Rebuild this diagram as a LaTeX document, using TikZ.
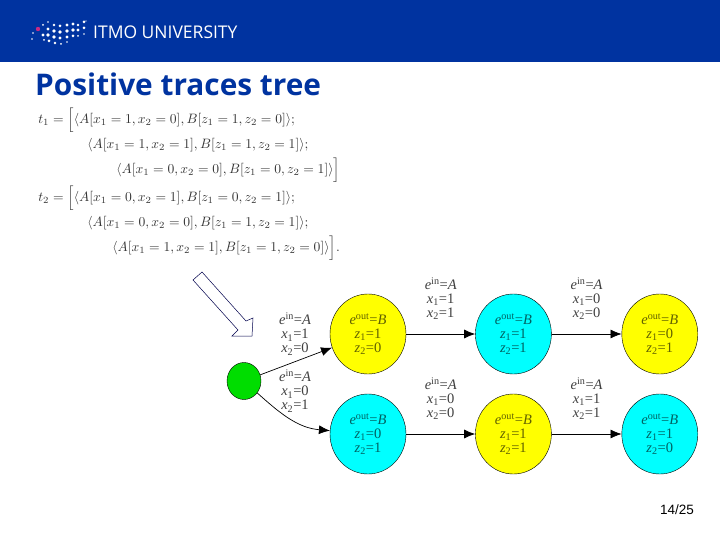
\documentclass[tikz,border=0pt]{standalone}
\usepackage{fontspec}
\setmainfont{Liberation Serif}
\newfontfamily\titlefont{Open Sans}
\newfontfamily\pagefont{Liberation Sans}
\usepackage{tikz}
\usetikzlibrary{positioning,arrows.meta,shapes.geometric}
\definecolor{itmoblue}{RGB}{0,51,160}
\definecolor{nodeyellow}{RGB}{255,255,0}
\definecolor{nodecyan}{RGB}{0,255,255}
\definecolor{nodegreen}{RGB}{0,221,0}
\tikzset{
  statenode/.style={draw=black,ellipse,minimum width=76pt,minimum height=80pt,inner sep=0pt,align=center,
    font=\fontsize{14.5}{14}\selectfont},
  yellownode/.style={statenode,fill=nodeyellow,text=black!45!nodeyellow!70!black},
  cyannode/.style={statenode,fill=nodecyan,text=black!45!nodecyan!70!black},
  guardlabel/.style={align=center,inner sep=0pt,text=black!75,font=\fontsize{14.5}{14}\selectfont},
  trans/.style={->,>={Latex[length=11pt,width=9pt]},line width=0.7pt},
  formula/.style={anchor=west,inner sep=0pt,text=black!80,scale=1.36},
}
\newcommand{\evin}{{\itshape e}\textsuperscript{in}={\itshape A}}
\newcommand{\evout}{{\itshape e}\textsuperscript{out}={\itshape B}}
\newcommand{\vals}[3]{{\itshape #1}\textsubscript{1}=#2\\{\itshape #1}\textsubscript{2}=#3}
\begin{document}
\begin{tikzpicture}[x=1pt,y=-1pt]
  \useasboundingbox (0,0) rectangle (720,540);
  % header
  \fill[itmoblue] (0,0) rectangle (720,62);
  \foreach \px/\py/\pr in {32/39/.8,33/33/.9,43/25/1,43/35/1.6,44/40/1,48/22/.9,48/29/1.7,48/35/1.8,49/41/1.5,54/25/1.4,54/31/1.9,54/37/1.9,55/43/1.3,60/26/1.5,60/32/1.9,60/38/1.7,61/44/1,67/25/1.6,67/31/1.9,67/37/1.6,67/42/.9,73/24/1.6,73/30/1.8,73/36/1.5,78/25/1.4,78/30/1.6,78/36/1,84/22/1.5,84/28/1.5,84/34/.9,86/21/.7}
    \fill[white] (\px,\py) circle (\pr);
  \fill[magenta!80!black] (38,29) circle (2.2);
  \node[anchor=west,inner sep=0pt,text=white] (brand) at (93,32) {\titlefont\fontsize{17.5}{18}\selectfont ITMO UNIVERSITY};
  \node[anchor=west,inner sep=0pt,text=itmoblue] (title) at (35,84) {\titlefont\bfseries\fontsize{29.8}{30}\selectfont Positive traces tree};

  % traces
  \node[formula] (t1a) at (38,120) {$t_1=\Big[\langle A[x_1=1,x_2=0],B[z_1=1,z_2=0]\rangle;$};
  \node[formula] (t1b) at (87,145) {$\langle A[x_1=1,x_2=1],B[z_1=1,z_2=1]\rangle;$};
  \node[formula] (t1c) at (116,170) {$\langle A[x_1=0,x_2=0],B[z_1=0,z_2=1]\rangle\Big]$};
  \node[formula] (t2a) at (38,198) {$t_2=\Big[\langle A[x_1=0,x_2=1],B[z_1=0,z_2=1]\rangle;$};
  \node[formula] (t2b) at (87,223) {$\langle A[x_1=0,x_2=0],B[z_1=1,z_2=1]\rangle;$};
  \node[formula] (t2c) at (112,248) {$\langle A[x_1=1,x_2=1],B[z_1=1,z_2=0]\rangle\Big].$};

  % tree
  \node[ellipse,draw=black,fill=nodegreen,minimum width=34pt,minimum height=37pt,inner sep=0pt] (root) at (244,381) {};
  \node[yellownode] (y1) at (368,334) {\evout\\\vals{z}{1}{0}};
  \node[cyannode,right=69pt of y1] (c1) {\evout\\\vals{z}{1}{1}};
  \node[yellownode,right=70pt of c1] (y2) {\evout\\\vals{z}{0}{1}};
  \node[cyannode] (c2) at (368,434) {\evout\\\vals{z}{0}{1}};
  \node[yellownode,right=69pt of c2] (y3) {\evout\\\vals{z}{1}{1}};
  \node[cyannode,right=70pt of y3] (c3) {\evout\\\vals{z}{1}{0}};

  \draw[trans] (root) -- (y1);
  \draw[trans] (root) to[out=-42,in=175] (c2);
  \draw[trans] (y1) -- node[guardlabel,above=14pt] {\evin\\\vals{x}{1}{1}} (c1);
  \draw[trans] (c1) -- node[guardlabel,above=14pt] {\evin\\\vals{x}{0}{0}} (y2);
  \draw[trans] (c2) -- node[guardlabel,above=14pt] {\evin\\\vals{x}{0}{0}} (y3);
  \draw[trans] (y3) -- node[guardlabel,above=14pt] {\evin\\\vals{x}{1}{1}} (c3);
  \node[guardlabel] (g1) at (295,334) {\evin\\\vals{x}{1}{0}};
  \node[guardlabel] (g2) at (295,391) {\evin\\\vals{x}{0}{1}};

  % hollow pointer
  \draw[draw=black!70!blue,fill=white,line width=0.5pt,line join=miter]
    (193,280) -- (202,272) -- (246,321) -- (253,318) -- (252,336) -- (232,336) -- (238,330) -- cycle;

  \node[anchor=center,inner sep=0pt] (pagenum) at (677,510) {\pagefont\fontsize{13.5}{14}\selectfont 14/25};
\end{tikzpicture}
\end{document}
